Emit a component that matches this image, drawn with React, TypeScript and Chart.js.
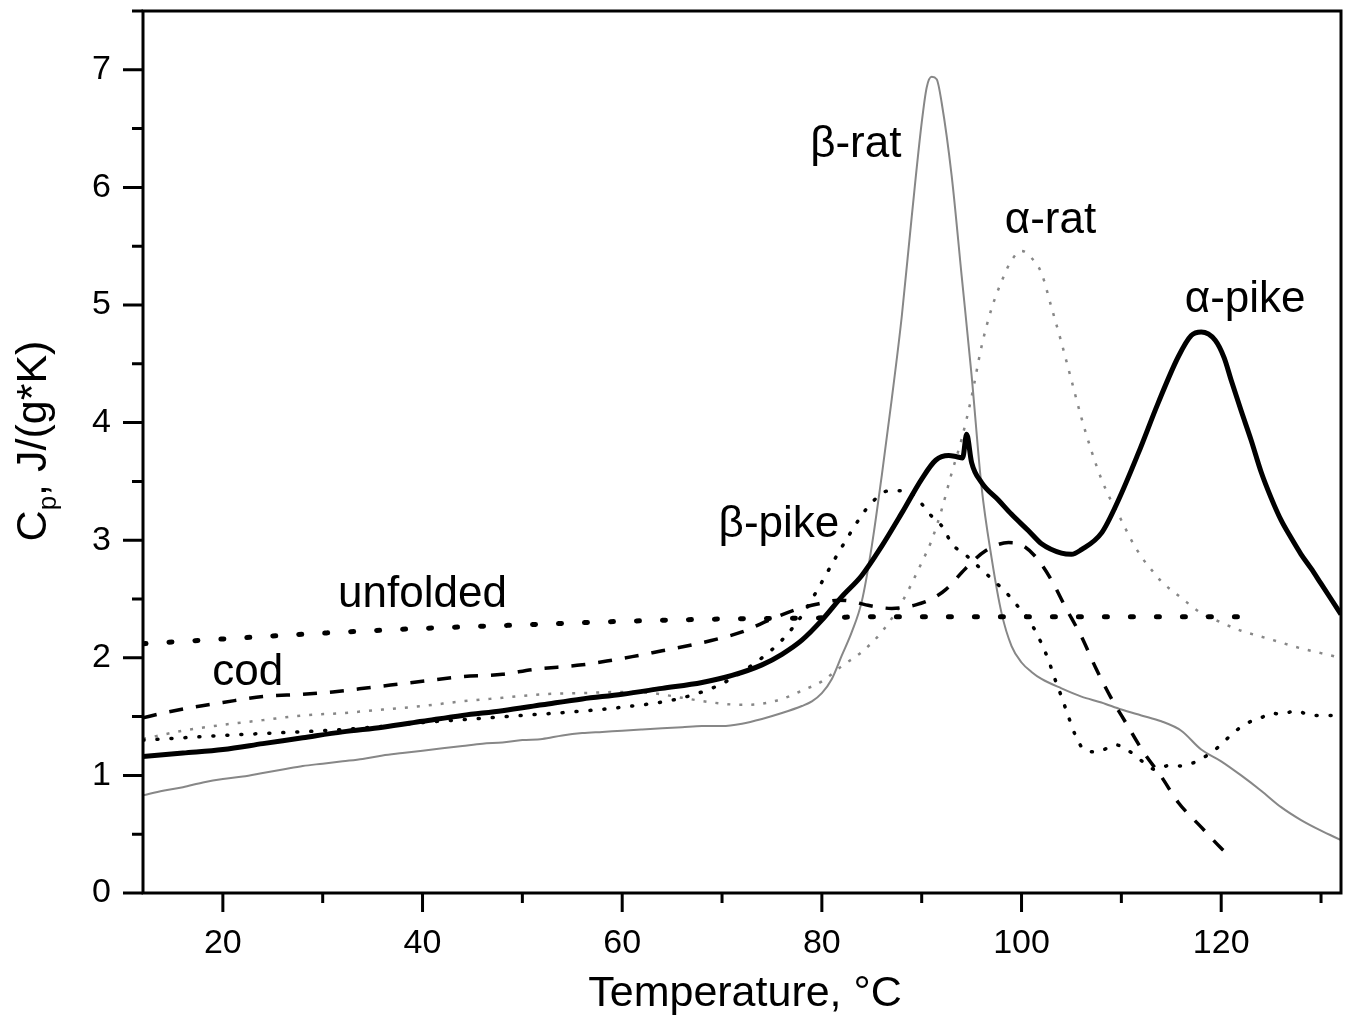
import React, { useEffect, useRef } from 'react';
import { Chart, registerables } from 'chart.js';

Chart.register(...registerables);

// ---------- data (temperature °C, Cp J/(g*K)) ----------
const betaRat: [number, number][] = [
  [12, 0.83], [14, 0.87], [16, 0.9], [18, 0.94], [20, 0.97], [22, 0.99], [24, 1.02], [26, 1.05], [28, 1.08],
  [30, 1.1], [32, 1.12], [34, 1.14], [36, 1.17], [38, 1.19], [40, 1.21], [42, 1.23], [44, 1.25], [46, 1.27],
  [48, 1.28], [50, 1.3], [52, 1.31], [54, 1.34], [56, 1.36], [58, 1.37], [60, 1.38], [62, 1.39], [64, 1.4],
  [66, 1.41], [68, 1.42], [70, 1.42], [72, 1.44], [74, 1.48], [76, 1.53], [78, 1.59], [79, 1.63], [80, 1.7],
  [81, 1.82], [82, 2.02], [83, 2.22], [84, 2.48], [85, 2.95], [86, 3.55], [87, 4.2], [88, 4.9], [89, 5.75],
  [90, 6.55], [90.5, 6.85], [91, 6.94], [91.5, 6.92], [92, 6.72], [93, 6.1], [94, 5.25], [95, 4.4], [96, 3.45],
  [97, 2.85], [98, 2.38], [99, 2.1], [100, 1.96], [101, 1.88], [102, 1.82], [104, 1.74], [106, 1.67],
  [108, 1.62], [110, 1.56], [112, 1.51], [114, 1.46], [116, 1.38], [118, 1.22], [120, 1.12], [122, 1.0],
  [124, 0.87], [126, 0.73], [128, 0.62], [130, 0.53], [132, 0.45],
];

const alphaRat: [number, number][] = [
  [12, 1.31], [16, 1.38], [20, 1.43], [24, 1.47], [28, 1.51], [32, 1.53], [36, 1.56], [40, 1.59], [44, 1.63],
  [48, 1.66], [52, 1.69], [56, 1.7], [60, 1.71], [63, 1.7], [66, 1.66], [69, 1.62], [72, 1.6], [74, 1.61],
  [76, 1.65], [78, 1.72], [80, 1.8], [82, 1.93], [84, 2.05], [86, 2.22], [88, 2.47], [90, 2.81], [91, 3.0],
  [92, 3.26], [93, 3.57], [94, 3.86], [95, 4.22], [96, 4.65], [97, 4.97], [98, 5.2], [99, 5.38], [100, 5.46],
  [101, 5.4], [102, 5.27], [103, 4.98], [104, 4.68], [105, 4.36], [106, 4.04], [107, 3.76], [108, 3.52],
  [109, 3.33], [110, 3.17], [111, 3.0], [112, 2.86], [113, 2.75], [114, 2.65], [116, 2.51], [118, 2.38],
  [120, 2.3], [122, 2.23], [124, 2.18], [126, 2.13], [128, 2.08], [130, 2.04], [132, 2.0],
];

const alphaPike: [number, number][] = [
  [12, 1.16], [16, 1.19], [20, 1.22], [24, 1.27], [28, 1.32], [32, 1.37], [36, 1.41], [40, 1.46], [44, 1.51],
  [48, 1.55], [52, 1.6], [56, 1.65], [60, 1.69], [64, 1.74], [68, 1.79], [71, 1.85], [74, 1.94], [76, 2.03],
  [78, 2.15], [80, 2.32], [82, 2.52], [84, 2.7], [86, 2.95], [88, 3.23], [90, 3.52], [91.4, 3.68], [92.7, 3.72],
  [93.5, 3.71], [94.1, 3.7], [94.5, 3.9], [95, 3.66], [96, 3.49], [97.7, 3.34], [99, 3.22], [100.7, 3.08],
  [102, 2.97], [104, 2.89], [105, 2.88], [106, 2.92], [108, 3.06], [109.7, 3.34], [111.7, 3.74], [113.7, 4.17],
  [115.7, 4.56], [117, 4.74], [118, 4.77], [119.4, 4.7], [120.3, 4.55], [121, 4.36], [122, 4.1], [123, 3.85],
  [124, 3.58], [125, 3.36], [126, 3.17], [127, 3.02], [128, 2.88], [129, 2.76], [130, 2.63], [131, 2.5],
  [132, 2.37],
];

const betaPike: [number, number][] = [
  [12, 1.3], [16, 1.32], [20, 1.34], [25, 1.36], [30, 1.38], [35, 1.41], [40, 1.45], [45, 1.48], [50, 1.51],
  [55, 1.54], [60, 1.58], [65, 1.64], [68, 1.71], [70, 1.78], [72, 1.88], [74, 2.0], [76, 2.15], [78, 2.36],
  [79.5, 2.57], [80.5, 2.72], [81.5, 2.87], [82.7, 3.04], [83.9, 3.2], [85, 3.32], [86.7, 3.42], [88.2, 3.42],
  [89.5, 3.36], [90.7, 3.23], [92.2, 3.1], [93, 2.97], [94.2, 2.89], [95.5, 2.79], [96.9, 2.68], [98.4, 2.56],
  [99.7, 2.43], [100.9, 2.3], [101.9, 2.14], [102.7, 1.98], [103.3, 1.83], [104, 1.67], [104.7, 1.5],
  [105.4, 1.34], [106.4, 1.21], [107.6, 1.2], [109.4, 1.26], [110.9, 1.2], [112.4, 1.1], [113.4, 1.05],
  [115, 1.09], [116, 1.08], [117, 1.1], [118.2, 1.15], [119.7, 1.24], [121.2, 1.36], [122.5, 1.44], [124, 1.49],
  [125, 1.53], [126, 1.52], [127.5, 1.55], [129, 1.51], [130.4, 1.51], [132, 1.51],
];

const cod: [number, number][] = [
  [12, 1.49], [14, 1.53], [17, 1.58], [20, 1.62], [24, 1.67], [28, 1.69], [31, 1.71], [35, 1.75], [39, 1.79],
  [44, 1.84], [48, 1.86], [51, 1.9], [56, 1.94], [59, 1.98], [61, 2.01], [64, 2.06], [67, 2.11], [70, 2.17],
  [72, 2.22], [75, 2.33], [77.4, 2.41], [79.7, 2.46], [81.7, 2.49], [83, 2.48], [84.4, 2.45], [87, 2.42],
  [89.4, 2.45], [91, 2.5], [92.4, 2.58], [94.4, 2.76], [96.4, 2.91], [98.7, 2.98], [100, 2.96], [101.4, 2.86],
  [103, 2.66], [104.4, 2.43], [106, 2.18], [107.4, 1.92], [108.9, 1.67], [110.5, 1.44], [112.2, 1.2],
  [114, 0.99], [115.7, 0.77], [118, 0.56], [120, 0.38], [120.5, 0.34],
];

const unfolded: [number, number][] = [
  [12, 2.12], [20, 2.16], [30, 2.21], [40, 2.25], [50, 2.28], [60, 2.31], [70, 2.33], [80, 2.34], [85, 2.35],
  [100, 2.35], [110, 2.35], [123, 2.35],
];

const xMajorTicks = [20, 40, 60, 80, 100, 120];
const xMinorTicks = [30, 50, 70, 90, 110, 130];
const yMajorTicks = [0, 1, 2, 3, 4, 5, 6, 7];
const yMinorTicks = [0.5, 1.5, 2.5, 3.5, 4.5, 5.5, 6.5, 7.5];

const curveLabels = [
  { text: 'β-rat', t: 83.4, cp: 6.26 },
  { text: 'α-rat', t: 102.9, cp: 5.61 },
  { text: 'α-pike', t: 122.4, cp: 4.94 },
  { text: 'β-pike', t: 75.7, cp: 3.03 },
  { text: 'unfolded', t: 40.0, cp: 2.43 },
  { text: 'cod', t: 22.5, cp: 1.77 },
];

const xTitle = 'Temperature, °C';
const yTitleMain = 'C';
const yTitleSub = 'p';
const yTitleRest = ', J/(g*K)';

const FONT = '"Liberation Sans", Arial, Helvetica, sans-serif';
const GRAY = '#878787';

const toXY = (pts: [number, number][]) => pts.map(([x, y]) => ({ x, y }));

const overlay = {
  id: 'overlay',
  afterDatasetsDraw(chart: any) {
    const { ctx, chartArea: a, scales } = chart;
    const xs = scales.x;
    const ys = scales.y;
    ctx.save();
    // frame
    ctx.strokeStyle = '#000';
    ctx.lineWidth = 3;
    ctx.lineCap = 'butt';
    ctx.strokeRect(a.left, a.top, a.right - a.left, a.bottom - a.top);
    // ticks
    ctx.beginPath();
    for (const v of xMajorTicks) {
      const px = xs.getPixelForValue(v);
      ctx.moveTo(px, a.bottom); ctx.lineTo(px, a.bottom + 19);
    }
    for (const v of xMinorTicks) {
      const px = xs.getPixelForValue(v);
      ctx.moveTo(px, a.bottom); ctx.lineTo(px, a.bottom + 10);
    }
    for (const v of yMajorTicks) {
      const py = ys.getPixelForValue(v);
      ctx.moveTo(a.left, py); ctx.lineTo(a.left - 20, py);
    }
    for (const v of yMinorTicks) {
      const py = ys.getPixelForValue(v);
      ctx.moveTo(a.left, py); ctx.lineTo(a.left - 11, py);
    }
    ctx.stroke();

    // curve labels
    ctx.fillStyle = '#000';
    ctx.font = `44px ${FONT}`;
    ctx.textAlign = 'center';
    ctx.textBaseline = 'alphabetic';
    for (const l of curveLabels) {
      ctx.fillText(l.text, xs.getPixelForValue(l.t), ys.getPixelForValue(l.cp));
    }

    // x title
    ctx.font = `43px ${FONT}`;
    ctx.fillText(xTitle, (a.left + a.right) / 2 + 3, a.bottom + 113);

    // y title (rotated, with subscript)
    ctx.save();
    ctx.translate(46, (a.top + a.bottom) / 2 - 11);
    ctx.rotate(-Math.PI / 2);
    ctx.textAlign = 'left';
    const mainFont = `43px ${FONT}`;
    const subFont = `26px ${FONT}`;
    ctx.font = mainFont;
    const w1 = ctx.measureText(yTitleMain).width;
    const w3 = ctx.measureText(yTitleRest).width;
    ctx.font = subFont;
    const w2 = ctx.measureText(yTitleSub).width;
    let x0 = -(w1 + w2 + w3) / 2;
    ctx.font = mainFont;
    ctx.fillText(yTitleMain, x0, 0);
    x0 += w1;
    ctx.font = subFont;
    ctx.fillText(yTitleSub, x0, 10);
    x0 += w2;
    ctx.font = mainFont;
    ctx.fillText(yTitleRest, x0, 0);
    ctx.restore();

    ctx.restore();
  },
};

export default function App() {
  const canvasRef = useRef<HTMLCanvasElement | null>(null);

  useEffect(() => {
    document.body.style.margin = '0';
    const canvas = canvasRef.current;
    if (!canvas) return;
    const chart = new Chart(canvas, {
      type: 'scatter',
      data: {
        datasets: [
          {
            label: 'α-pike',
            data: toXY(alphaPike),
            showLine: true,
            borderColor: '#000',
            borderWidth: 5,
            pointRadius: 0,
            cubicInterpolationMode: 'monotone',
          },
          {
            label: 'cod',
            data: toXY(cod),
            showLine: true,
            borderColor: '#000',
            borderWidth: 3.5,
            borderDash: [14, 13],
            pointRadius: 0,
            cubicInterpolationMode: 'monotone',
          },
          {
            label: 'β-pike',
            data: toXY(betaPike),
            showLine: true,
            borderColor: '#000',
            borderWidth: 3.5,
            borderDash: [1, 13],
            borderCapStyle: 'round',
            pointRadius: 0,
            cubicInterpolationMode: 'monotone',
          },
          {
            label: 'unfolded',
            data: toXY(unfolded),
            showLine: true,
            borderColor: '#000',
            borderWidth: 5,
            borderDash: [3, 23],
            borderCapStyle: 'round',
            pointRadius: 0,
            cubicInterpolationMode: 'monotone',
          },
          {
            label: 'α-rat',
            data: toXY(alphaRat),
            showLine: true,
            borderColor: GRAY,
            borderWidth: 2.5,
            borderDash: [3, 9],
            pointRadius: 0,
            cubicInterpolationMode: 'monotone',
          },
          {
            label: 'β-rat',
            data: toXY(betaRat),
            showLine: true,
            borderColor: GRAY,
            borderWidth: 2,
            pointRadius: 0,
            cubicInterpolationMode: 'monotone',
          },
        ],
      },
      options: {
        responsive: false,
        animation: false,
        devicePixelRatio: 1,
        layout: { autoPadding: false, padding: { top: 11, right: 9, left: 0, bottom: 0 } },
        plugins: { legend: { display: false }, tooltip: { enabled: false } },
        scales: {
          x: {
            type: 'linear',
            min: 12,
            max: 132,
            grid: { display: false, drawTicks: false },
            border: { display: false },
            afterBuildTicks: (s: any) => { s.ticks = xMajorTicks.map((v) => ({ value: v })); },
            afterFit: (s: any) => { s.height = 126; s.paddingLeft = 0; s.paddingRight = 0; },
            ticks: {
              padding: 30,
              maxRotation: 0,
              color: '#000',
              font: { family: FONT, size: 34 },
            },
          },
          y: {
            type: 'linear',
            min: 0,
            max: 7.5,
            grid: { display: false, drawTicks: false },
            border: { display: false },
            afterBuildTicks: (s: any) => { s.ticks = yMajorTicks.map((v) => ({ value: v })); },
            afterFit: (s: any) => { s.width = 143; s.paddingTop = 0; s.paddingBottom = 0; },
            ticks: {
              padding: 32,
              color: '#000',
              font: { family: FONT, size: 34 },
            },
          },
        },
      },
      plugins: [overlay],
    } as any);
    return () => chart.destroy();
  }, []);

  return (
    <div style={{ width: 1350, height: 1019, background: '#fff' }}>
      <canvas ref={canvasRef} width={1350} height={1019} style={{ display: 'block' }} />
    </div>
  );
}
